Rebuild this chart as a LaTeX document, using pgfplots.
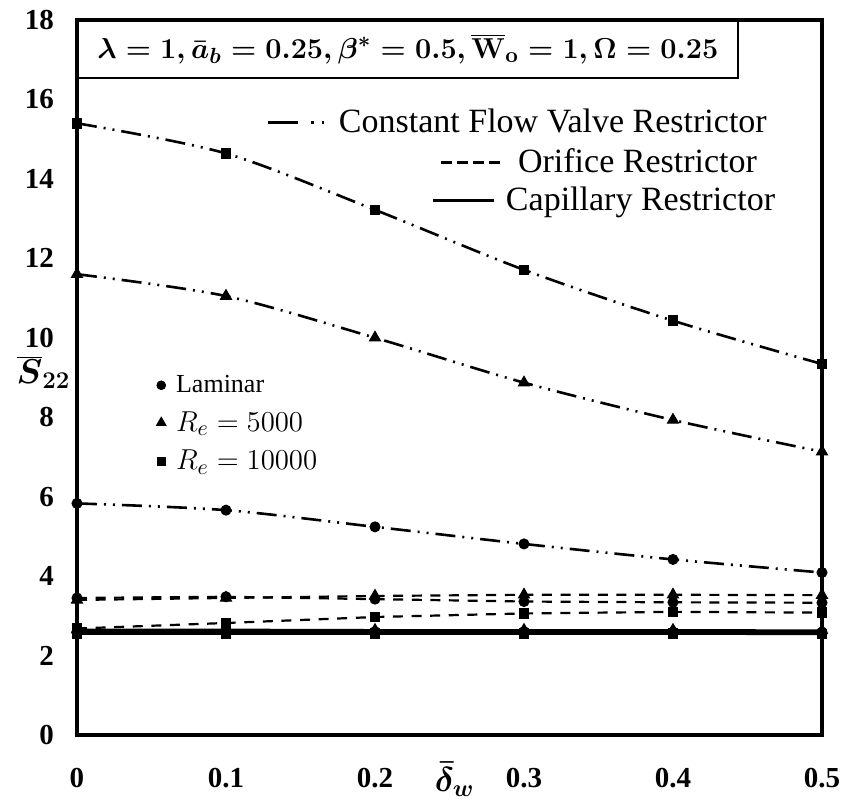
\documentclass[border=0pt]{standalone}
\usepackage{fontspec}
\setmainfont{Liberation Serif}
\usepackage{pgfplots}
\usepackage{pgfplotstable}
\pgfplotsset{compat=1.18}

\pgfplotstableread{
x    cfvL  cfvA  cfvB  orL  orA  orB  caL  caA  caB
0    5.83  11.60 15.40 3.45 3.40 2.68 2.60 2.65 2.55
0.1  5.66  11.05 14.64 3.48 3.45 2.82 2.60 2.65 2.55
0.2  5.24  10.00 13.22 3.42 3.50 2.97 2.60 2.64 2.55
0.3  4.81  8.87  11.71 3.36 3.53 3.06 2.60 2.64 2.55
0.4  4.42  7.93  10.43 3.34 3.53 3.10 2.59 2.64 2.55
0.5  4.09  7.13  9.34  3.33 3.52 3.08 2.59 2.63 2.54
}\data

\pgfplotsset{
  cfv/.style={black, line width=1.3pt, smooth, dash pattern=on 10pt off 3.5pt on 1pt off 3.5pt on 1pt off 3.5pt},
  orf/.style={black, line width=1.1pt, dash pattern=on 5pt off 4.3pt},
  cap/.style={black, line width=1.1pt},
  mc/.style={mark=*, mark size=2.5pt, mark options={solid, fill=black, line width=0.5pt}},
  mt/.style={mark=triangle*, mark size=3.2pt, mark options={solid, fill=black, line width=0.5pt}},
  ms/.style={mark=square*, mark size=2.4pt, mark options={solid, fill=black, line width=0.5pt}},
  legcfv/.style={black, line width=1.5pt, dash pattern=on 15pt off 6.5pt on 1.2pt off 4pt on 1.2pt off 10pt,
    legend image code/.code={\draw[##1] (0pt,0pt) -- (28pt,0pt);}},
  legorf/.style={black, line width=1.5pt, dash pattern=on 5.6pt off 2.4pt,
    legend image code/.code={\draw[##1] (0pt,0pt) -- (29.5pt,0pt);}},
  legcap/.style={black, line width=1.5pt,
    legend image code/.code={\draw[##1] (0pt,0pt) -- (30.5pt,0pt);}},
  overlay axis/.style={at={(38.5pt,34.5pt)}, anchor=south west, scale only axis,
    width=372.5pt, height=357.5pt, hide axis, xmin=0, xmax=1, ymin=0, ymax=1,
    legend style={draw=none, fill=none, inner sep=0pt, outer sep=0pt,
      nodes={inner sep=0pt, outer sep=0pt},
      font=\fontsize{17}{18}\selectfont, legend cell align=left}},
}

\begin{document}
\begin{tikzpicture}
\useasboundingbox (0,0) rectangle (421.5pt,402pt);
\begin{axis}[
  at={(38.5pt,34.5pt)}, anchor=south west, scale only axis,
  width=372.5pt, height=357.5pt,
  xmin=0, xmax=0.5, ymin=0, ymax=18,
  xtick={0,0.1,0.2,0.3,0.4,0.5}, ytick={0,2,4,6,8,10,12,14,16,18},
  major tick length=0pt,
  axis line style={line width=1.8pt},
  clip=false,
  /pgf/number format/assume math mode=true,
  ticklabel style={font=\bfseries\fontsize{14.5}{14.5}\selectfont},
  xticklabel style={yshift=-13pt},
  yticklabel style={xshift=-8pt},
  xlabel={$\bar{\delta}_w$},
  xlabel style={at={(axis description cs:0.507,-0.062)}, anchor=center, inner sep=0pt, font=\fontsize{16.5}{17}\selectfont\boldmath},
  ylabel={$\overline{S}_{22}$},
  ylabel style={rotate=-90, at={(axis description cs:-0.045,0.507)}, anchor=center, font=\fontsize{17}{17}\selectfont\boldmath},
  legend style={at={(axis description cs:0.098,0.515)}, anchor=north west, draw=none, fill=none,
    row sep=4pt, column sep=3pt, legend cell align=left, font=\fontsize{15}{16}\selectfont},
]
\addplot[cfv, mc, forget plot] table[x=x, y=cfvL] {\data};
\addplot[cfv, mt, forget plot] table[x=x, y=cfvA] {\data};
\addplot[cfv, ms, forget plot] table[x=x, y=cfvB] {\data};
\addplot[orf, mc, forget plot] table[x=x, y=orL] {\data};
\addplot[orf, mt, forget plot] table[x=x, y=orA] {\data};
\addplot[orf, ms, forget plot] table[x=x, y=orB] {\data};
\addplot[cap, mc, forget plot] table[x=x, y=caL] {\data};
\addplot[cap, mt, forget plot] table[x=x, y=caA] {\data};
\addplot[cap, ms, forget plot] table[x=x, y=caB] {\data};
\addlegendimage{only marks, mark=*, mark size=2.2pt, black}
\addlegendentry{{\fontsize{13}{13}\selectfont Laminar}}
\addlegendimage{only marks, mark=triangle*, mark size=2.8pt, black}
\addlegendentry{$R_e = 5000$}
\addlegendimage{only marks, mark=square*, mark size=2.1pt, black}
\addlegendentry{$R_e = 10000$}
\node[draw, line width=0.8pt, anchor=north west, minimum width=330pt, minimum height=28.5pt, inner sep=0pt, fill=white, font=\fontsize{15.5}{15.5}\selectfont\boldmath] at (rel axis cs:0,1) {$\lambda = 1, \bar{a}_b = 0.25, \beta^{*} = 0.5, \overline{\mathbf{W}}_{\mathbf{o}} = 1, \Omega = 0.25$};
\end{axis}

\begin{axis}[overlay axis, legend style={at={(axis description cs:0.255,0.857)}, anchor=west, column sep=6.5pt}]
\addlegendimage{legcfv}
\addlegendentry{Constant Flow Valve Restrictor}
\end{axis}
\begin{axis}[overlay axis, legend style={at={(axis description cs:0.486,0.801)}, anchor=west, column sep=8.5pt}]
\addlegendimage{legorf}
\addlegendentry{Orifice Restrictor}
\end{axis}
\begin{axis}[overlay axis, legend style={at={(axis description cs:0.4765,0.748)}, anchor=west, column sep=5pt}]
\addlegendimage{legcap}
\addlegendentry{Capillary Restrictor}
\end{axis}
\end{tikzpicture}
\end{document}
